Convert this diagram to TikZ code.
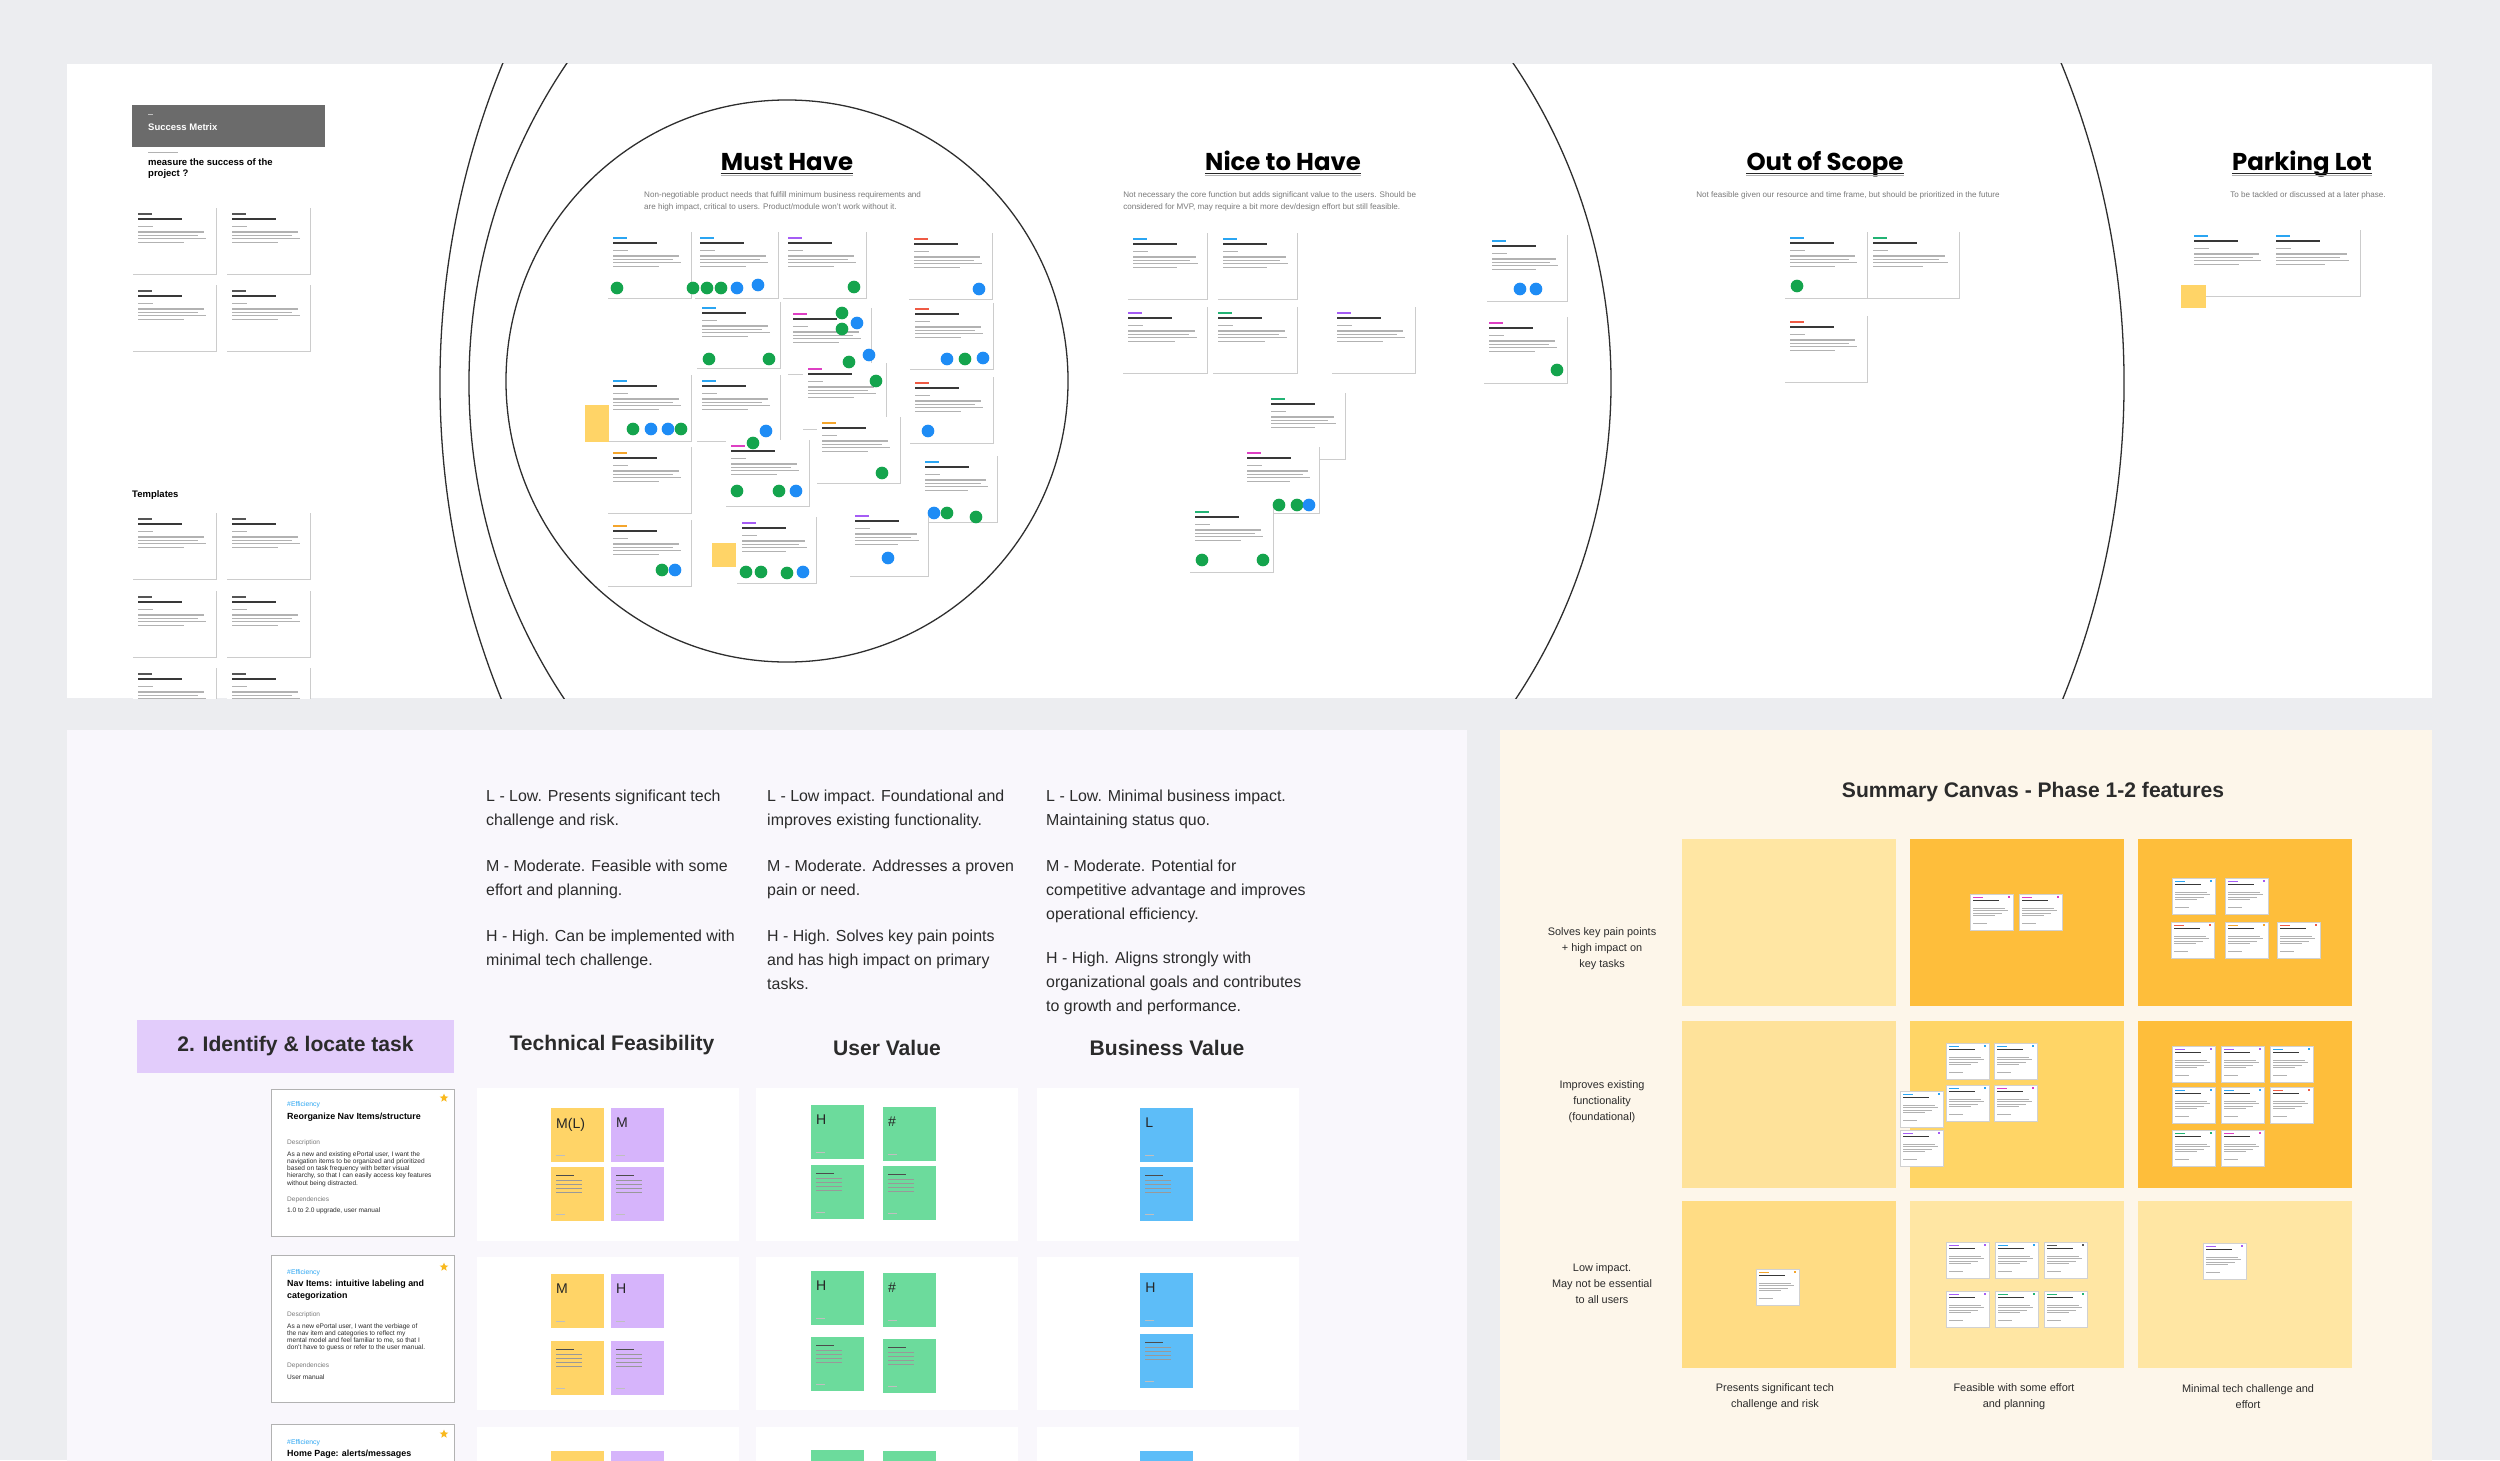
\documentclass[tikz,border=0pt]{standalone}
\usepackage{fontspec}
\setmainfont{Liberation Sans}
\newfontfamily\headfont{Poppins}
\usetikzlibrary{shapes.geometric, positioning, calc}
\definecolor{canvasGrey}{HTML}{ECEDF0}
\definecolor{panelLilac}{HTML}{F9F7FC}
\definecolor{panelCream}{HTML}{FDF6EA}
\definecolor{boxLilac}{HTML}{E2CCFB}
\definecolor{headerGrey}{HTML}{6B6B6B}
\definecolor{textInk}{HTML}{2B2B2B}
\definecolor{textGrey}{HTML}{7A7A7A}
\definecolor{tagBlue}{HTML}{2AA5F2}
\definecolor{tagPurple}{HTML}{A55CF5}
\definecolor{tagPink}{HTML}{DE3FC3}
\definecolor{tagRed}{HTML}{EF5A44}
\definecolor{tagOrange}{HTML}{F4A52C}
\definecolor{tagGreen}{HTML}{22B374}
\definecolor{tagBlack}{HTML}{555555}
\definecolor{voteGreen}{HTML}{14A44D}
\definecolor{voteBlue}{HTML}{1E8CF5}
\definecolor{noteYellow}{HTML}{FFD467}
\definecolor{notePurple}{HTML}{D6B4FB}
\definecolor{noteGreen}{HTML}{6CDB9C}
\definecolor{noteBlue}{HTML}{5DBDF8}
\definecolor{starYellow}{HTML}{F9B91E}
\definecolor{cellPale}{HTML}{FFE6A3}
\definecolor{cellPaleTwo}{HTML}{FEE29A}
\definecolor{cellMid}{HTML}{FFD566}
\definecolor{cellStrong}{HTML}{FEBE3B}
\definecolor{cellWarm}{HTML}{FFDC84}

% idea card: [width] x y tag-colour
\newcommand{\ideacard}[4][83]{%
  \begin{scope}[shift={(#2,#3)}]
    \fill[white] (0,0) rectangle (#1,66);
    \draw[cardEdge] (#1,0) -- (#1,66) -- (0,66);
    \fill[#4] (5,5) rectangle ++(14,1.8);
    \fill[inkLine] (5,10) rectangle ++(44,2);
    \fill[faintLine] (5,18) rectangle ++(15,1.2);
    \foreach \w [count=\k] in {66,60,68,46}
      \fill[faintLine] (5,20+3.4*\k) rectangle ++(\w*#1/83,1.1);
  \end{scope}}
% summary card: x y tag-colour
\newcommand{\minicard}[3]{%
  \begin{scope}[shift={(#1,#2)}]
    \filldraw[fill=white, draw=black!18, line width=0.3pt] (0,0) rectangle (43,36);
    \fill[#3] (3,3) rectangle ++(10,1.2);
    \fill[#3] (38,2) rectangle ++(2,2);
    \fill[inkLine] (3,6) rectangle ++(26,1.3);
    \foreach \w [count=\k] in {32,35,29,22}
      \fill[faintLine] (3,11+2.6*\k) rectangle ++(\w,0.8);
    \fill[faintLine] (3,29) rectangle ++(14,0.8);
  \end{scope}}
% sticky with letter: name x y colour letter
\newcommand{\sticky}[5]{%
  \node[stickyNote, fill=#4] (#1) at (#2,#3) {};
  \node[stickyLetter] (#1txt) at ($(#1.north west)+(5,10)$) {#5};
  \fill[black!25] ($(#1.south west)+(5,-7)$) rectangle ++(9,0.9);}
% sticky with note lines: name x y colour
\newcommand{\notesticky}[4]{%
  \node[stickyNote, fill=#4] (#1) at (#2,#3) {};
  \fill[black!70] ($(#1.north west)+(5,8)$) rectangle ++(18,1.3);
  \foreach \k in {1,...,4}
    \fill[black!40] ($(#1.north west)+(5,9+4*\k)$) rectangle ++(26,0.9);
  \fill[black!25] ($(#1.south west)+(5,-7)$) rectangle ++(9,0.9);}

\begin{document}
\begin{tikzpicture}[x=0.03cm, y=-0.03cm,
        cardEdge/.style={draw=black!20, line width=0.5pt},
        inkLine/.style={fill=black!78},
        faintLine/.style={fill=black!30},
        ring/.style={draw=black!82, line width=1.1pt},
        bigHead/.style={font=\headfont\bfseries\fontsize{20.8}{24}\selectfont, anchor=base, inner sep=0},
        headRule/.style={line width=1.5pt, black!85},
        headNote/.style={font=\fontsize{6.9}{10.9}\selectfont, text=textGrey, align=left, anchor=north west, inner sep=0},
        legend/.style={font=\fontsize{13.6}{20.5}\selectfont, text=textInk, align=left, anchor=north west, inner sep=0},
        colHead/.style={font=\bfseries\fontsize{18}{20}\selectfont, text=textInk, inner sep=0},
        sideLabel/.style={font=\fontsize{9.3}{13.7}\selectfont, text=textInk, align=center, inner sep=0},
        cell/.style={minimum width=6.42cm, minimum height=5.01cm, inner sep=0},
        stickyNote/.style={anchor=north west, minimum width=1.59cm, minimum height=1.62cm, inner sep=0},
        stickyLetter/.style={anchor=north west, inner sep=0, font=\fontsize{12}{12}\selectfont, text=black!85},
        taskTag/.style={anchor=west, inner sep=0, text=tagBlue, font=\fontsize{5.8}{6}\selectfont},
        taskTitle/.style={anchor=north west, inner sep=0, align=left, font=\bfseries\fontsize{7.6}{10.2}\selectfont},
        taskSmall/.style={anchor=west, inner sep=0, text=textGrey, font=\fontsize{5.6}{6}\selectfont},
        taskBody/.style={anchor=north west, inner sep=0, align=left, text=textInk, font=\fontsize{5.6}{6.2}\selectfont},
        taskStar/.style={star, star points=5, star point ratio=2.3, fill=starYellow, inner sep=0, minimum size=0.27cm}
    ]
    \clip (0,0) rectangle (2500,1460);
    \fill[canvasGrey] (0,0) rectangle (2500,1460);

    % ---------- prioritisation board ----------
    \fill[white] (67,64) rectangle (2432,698);
    \begin{scope}
        \clip (67,64) rectangle (2432,698);
        \draw[ring] (1282,383) circle (25.26cm);
        \draw[ring] (1040,383) circle (17.13cm);
        \draw[ring] (787,381) circle (8.43cm);

        \fill[headerGrey] (132,105) rectangle (325,147);
        \node[anchor=west, inner sep=0, text=white, font=\bfseries\fontsize{8.1}{9}\selectfont] (metrixHead) at (148,127) {Success Metrix};
        \fill[white!75!black] (148,114) rectangle ++(5,1);
        \fill[faintLine] (148,152) rectangle ++(30,1);
        \node[anchor=north west, inner sep=0, align=left, font=\bfseries\fontsize{8.1}{9.4}\selectfont] (metrixAsk) at (148,158) {measure the success of the\\project ?};
        \foreach \x/\y in {133/208, 227/208, 133/285, 227/285}
            \ideacard{\x}{\y}{tagBlack};

        \node[anchor=west, inner sep=0, font=\bfseries\fontsize{8.1}{9}\selectfont] (templatesHead) at (132,495) {Templates};
        \foreach \x/\y in {133/513, 227/513, 133/591, 227/591, 133/668, 227/668}
            \ideacard{\x}{\y}{tagBlack};
    \end{scope}

    \node[bigHead] (mustHead) at (787,170) {Must Have};
    \node[bigHead] (niceHead) at (1283,170) {Nice to Have};
    \node[bigHead] (scopeHead) at (1825,170) {Out of Scope};
    \node[bigHead] (parkHead) at (2302,170) {Parking Lot};
    \foreach \h in {mustHead, niceHead, scopeHead, parkHead} {
        \draw[black!30, line width=1.2pt] ([yshift=-4.6pt]\h.base west) -- ([yshift=-4.6pt]\h.base east);
        \draw[headRule] ([yshift=-3pt]\h.base west) -- ([yshift=-3pt]\h.base east);
    }
    \node[headNote] (mustNote) at (644,191) {Non-negotiable product needs that fulfill minimum business requirements and\\are high impact, critical to users. Product/module won't work without it.};
    \node[headNote] (niceNote) at (1123,191) {Not necessary the core function but adds significant value to the users. Should be\\considered for MVP, may require a bit more dev/design effort but still feasible.};
    \node[headNote] (scopeNote) at (1696,191) {Not feasible given our resource and time frame, but should be prioritized in the future};
    \node[headNote] (parkNote) at (2230,191) {To be tackled or discussed at a later phase.};

    % must have
    \ideacard{608}{232}{tagBlue}
    \ideacard{695}{232}{tagBlue}
    \ideacard{783}{232}{tagPurple}
    \ideacard{909}{233}{tagRed}
    \ideacard{697}{302}{tagBlue}
    \ideacard{788}{308}{tagPink}
    \ideacard{910}{303}{tagRed}
    \ideacard{608}{375}{tagBlue}
    \ideacard{697}{375}{tagBlue}
    \ideacard{803}{363}{tagPink}
    \ideacard{910}{377}{tagRed}
    \ideacard{608}{447}{tagOrange}
    \ideacard{726}{440}{tagPink}
    \ideacard{817}{417}{tagOrange}
    \ideacard[77]{920}{456}{tagBlue}
    \ideacard{608}{520}{tagOrange}
    \ideacard[79]{737}{517}{tagPurple}
    \ideacard[78]{850}{510}{tagPurple}
    \fill[noteYellow] (585,405) rectangle (609,442);
    \fill[noteYellow] (712,543) rectangle (736,567);

    % nice to have
    \ideacard[79]{1128}{233}{tagBlue}
    \ideacard[79]{1218}{233}{tagBlue}
    \ideacard[84]{1123}{307}{tagPurple}
    \ideacard[84]{1213}{307}{tagGreen}
    \ideacard{1332}{307}{tagPurple}
    \ideacard[80]{1487}{235}{tagBlue}
    \ideacard{1484}{317}{tagPink}
    \ideacard[79]{1266}{393}{tagGreen}
    \ideacard[77]{1242}{447}{tagPink}
    \ideacard{1190}{506}{tagGreen}

    % out of scope, parking lot
    \ideacard[82]{1785}{232}{tagBlue}
    \ideacard[91]{1868}{232}{tagGreen}
    \ideacard[82]{1785}{316}{tagRed}
    \ideacard[82]{2189}{230}{tagBlue}
    \ideacard[89]{2271}{230}{tagBlue}
    \fill[noteYellow] (2181,285) rectangle (2206,308);

    % votes
    \foreach \x/\y in {617/288, 693/288, 707/288, 721/288, 854/287, 709/359, 769/359, 842/313, 842/329, 849/362, 965/359, 633/429, 681/429, 876/381, 753/443, 882/473, 737/491, 779/491, 947/513, 976/517, 662/570, 746/572, 761/572, 787/573, 1557/370, 1279/505, 1297/505, 1202/560, 1263/560, 1797/286}
        \fill[voteGreen] (\x,\y) circle (5.4pt);
    \foreach \x/\y in {737/288, 758/285, 979/289, 857/323, 869/355, 947/359, 983/358, 651/429, 668/429, 766/431, 928/431, 796/491, 934/513, 675/570, 803/572, 888/558, 1520/289, 1536/289, 1309/505}
        \fill[voteBlue] (\x,\y) circle (5.4pt);

    % ---------- scoring panel ----------
    \fill[panelLilac] (67,730) rectangle (1467,1470);
    \node[legend] (techL) at (486,790) {L - Low. Presents significant tech\\challenge and risk.};
    \node[legend] (techM) at (486,860) {M - Moderate. Feasible with some\\effort and planning.};
    \node[legend] (techH) at (486,930) {H - High. Can be implemented with\\minimal tech challenge.};
    \node[legend] (userL) at (767,790) {L - Low impact. Foundational and\\improves existing functionality.};
    \node[legend] (userM) at (767,860) {M - Moderate. Addresses a proven\\pain or need.};
    \node[legend] (userH) at (767,930) {H - High. Solves key pain points\\and has high impact on primary\\tasks.};
    \node[legend] (bizL) at (1046,790) {L - Low. Minimal business impact.\\Maintaining status quo.};
    \node[legend] (bizM) at (1046,860) {M - Moderate. Potential for\\competitive advantage and improves\\operational efficiency.};
    \node[legend] (bizH) at (1046,952) {H - High. Aligns strongly with\\organizational goals and contributes\\to growth and performance.};

    \node[colHead, fill=boxLilac, minimum width=9.51cm, minimum height=1.59cm] (identify) at (295.5,1046.5) {2. Identify \& locate task};
    \node[colHead] (techHead) at (612,1045) {Technical Feasibility};
    \node[colHead] (userHead) at (887,1048) {User Value};
    \node[colHead] (bizHead) at (1167,1048) {Business Value};

    \foreach \y in {1088,1257,1427} {
        \fill[white] (477,\y) rectangle ++(262,153);
        \fill[white] (756,\y) rectangle ++(262,153);
        \fill[white] (1037,\y) rectangle ++(262,153);
    }

    % task cards
    \filldraw[fill=white, draw=black!30, line width=0.5pt] (271,1089) rectangle (454,1236);
    \node[taskStar] (star1) at (444,1098) {};
    \node[taskTag] (tag1) at (287,1105) {\#Efficiency};
    \node[taskTitle] (title1) at (287,1113) {Reorganize Nav Items/structure};
    \node[taskSmall] (desc1) at (287,1143) {Description};
    \node[taskBody] (body1) at (287,1151) {As a new and existing ePortal user, I want the\\navigation items to be organized and prioritized\\based on task frequency with better visual\\hierarchy, so that I can easily access key features\\without being distracted.};
    \node[taskSmall] (deps1) at (287,1200) {Dependencies};
    \node[taskSmall, text=textInk] (dval1) at (287,1211) {1.0 to 2.0 upgrade, user manual};

    \filldraw[fill=white, draw=black!30, line width=0.5pt] (271,1255) rectangle (454,1402);
    \node[taskStar] (star2) at (444,1267) {};
    \node[taskTag] (tag2) at (287,1273) {\#Efficiency};
    \node[taskTitle] (title2) at (287,1280) {Nav Items: intuitive labeling and\\categorization};
    \node[taskSmall] (desc2) at (287,1315) {Description};
    \node[taskBody] (body2) at (287,1323) {As a new ePortal user, I want the verbiage of\\the nav item and categories to reflect my\\mental model and feel familiar to me, so that I\\don't have to guess or refer to the user manual.};
    \node[taskSmall] (deps2) at (287,1366) {Dependencies};
    \node[taskSmall, text=textInk] (dval2) at (287,1377) {User manual};

    \filldraw[fill=white, draw=black!30, line width=0.5pt] (271,1424) rectangle (454,1480);
    \node[taskStar] (star3) at (444,1434) {};
    \node[taskTag] (tag3) at (287,1443) {\#Efficiency};
    \node[taskTitle] (title3) at (287,1450) {Home Page: alerts/messages};

    % scores
    \sticky{t1a}{551}{1108}{noteYellow}{M(L)}
    \sticky{t1b}{611}{1108}{notePurple}{M}
    \notesticky{t1c}{551}{1167}{noteYellow}
    \notesticky{t1d}{611}{1167}{notePurple}
    \sticky{u1a}{811}{1105}{noteGreen}{H}
    \sticky{u1b}{883}{1107}{noteGreen}{\#}
    \notesticky{u1c}{811}{1165}{noteGreen}
    \notesticky{u1d}{883}{1166}{noteGreen}
    \sticky{b1a}{1140}{1108}{noteBlue}{L}
    \notesticky{b1b}{1140}{1167}{noteBlue}

    \sticky{t2a}{551}{1274}{noteYellow}{M}
    \sticky{t2b}{611}{1274}{notePurple}{H}
    \notesticky{t2c}{551}{1341}{noteYellow}
    \notesticky{t2d}{611}{1341}{notePurple}
    \sticky{u2a}{811}{1271}{noteGreen}{H}
    \sticky{u2b}{883}{1273}{noteGreen}{\#}
    \notesticky{u2c}{811}{1337}{noteGreen}
    \notesticky{u2d}{883}{1339}{noteGreen}
    \sticky{b2a}{1140}{1273}{noteBlue}{H}
    \notesticky{b2b}{1140}{1334}{noteBlue}

    \node[stickyNote, fill=noteYellow] (t3a) at (551,1451) {};
    \node[stickyNote, fill=notePurple] (t3b) at (611,1451) {};
    \node[stickyNote, fill=noteGreen] (u3a) at (811,1450) {};
    \node[stickyNote, fill=noteGreen] (u3b) at (883,1451) {};
    \node[stickyNote, fill=noteBlue] (b3a) at (1140,1451) {};

    % ---------- summary canvas ----------
    \fill[panelCream] (1500,730) rectangle (2432,1470);
    \node[colHead] (summaryTitle) at (2033,792) {Summary Canvas - Phase 1-2 features};
    \node[cell, fill=cellPale] (cell11) at (1789,922.5) {};
    \node[cell, fill=cellStrong] (cell12) at (2017,922.5) {};
    \node[cell, fill=cellStrong] (cell13) at (2245,922.5) {};
    \node[cell, fill=cellPaleTwo] (cell21) at (1789,1104) {};
    \node[cell, fill=cellMid] (cell22) at (2017,1104) {};
    \node[cell, fill=cellStrong] (cell23) at (2245,1104) {};
    \node[cell, fill=cellWarm] (cell31) at (1789,1284.5) {};
    \node[cell, fill=cellPale] (cell32) at (2017,1284.5) {};
    \node[cell, fill=cellPale] (cell33) at (2245,1284.5) {};

    \node[sideLabel] (rowHigh) at (1602,949) {Solves key pain points\\+ high impact on\\key tasks};
    \node[sideLabel] (rowMid) at (1602,1102) {Improves existing\\functionality\\(foundational)};
    \node[sideLabel] (rowLow) at (1602,1284) {Low impact.\\May not be essential\\to all users};
    \node[sideLabel] (colHard) at (1775,1397) {Presents significant tech\\challenge and risk};
    \node[sideLabel] (colSome) at (2014,1397) {Feasible with some effort\\and planning};
    \node[sideLabel] (colEasy) at (2248,1397) {Minimal tech challenge and\\effort};

    \minicard{1970}{894}{tagPink}
    \minicard{2019}{894}{tagPink}
    \minicard{2172}{878}{tagBlue}
    \minicard{2225}{878}{tagPurple}
    \minicard{2171}{922}{tagRed}
    \minicard{2225}{922}{tagOrange}
    \minicard{2277}{922}{tagRed}
    \minicard{1946}{1043}{tagBlue}
    \minicard{1994}{1043}{tagBlue}
    \minicard{1946}{1085}{tagBlue}
    \minicard{1994}{1085}{tagPink}
    \minicard{1900}{1091}{tagBlue}
    \minicard{1900}{1130}{tagPurple}
    \minicard{2172}{1046}{tagPurple}
    \minicard{2221}{1046}{tagPurple}
    \minicard{2270}{1046}{tagBlue}
    \minicard{2172}{1087}{tagBlue}
    \minicard{2221}{1087}{tagBlue}
    \minicard{2270}{1087}{tagRed}
    \minicard{2172}{1130}{tagGreen}
    \minicard{2221}{1130}{tagPink}
    \minicard{1756}{1269}{tagOrange}
    \minicard{1946}{1242}{tagPurple}
    \minicard{1995}{1242}{tagBlue}
    \minicard{2044}{1242}{tagBlack}
    \minicard{1946}{1291}{tagPurple}
    \minicard{1995}{1291}{tagGreen}
    \minicard{2044}{1291}{tagGreen}
    \minicard{2203}{1243}{tagPurple}
\end{tikzpicture}
\end{document}
